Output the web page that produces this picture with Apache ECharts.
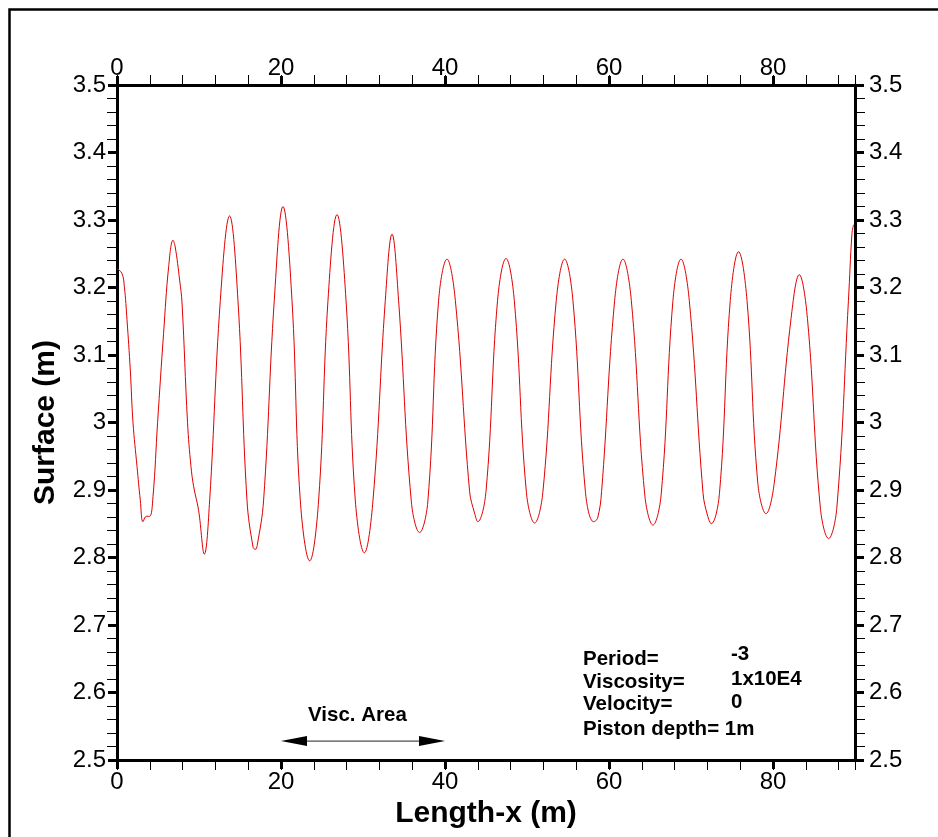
<!DOCTYPE html>
<html>
<head>
<meta charset="utf-8">
<script src="https://cdn.jsdelivr.net/npm/echarts@6/dist/echarts.min.js"></script>
<style>
html,body{margin:0;padding:0;background:#fff;}
#chart{width:938px;height:837px;}
</style>
</head>
<body>
<div id="chart"></div>
<script>
// Surface elevation along the channel
const lengthX = [0, 0.6, 0.9, 1.22, 1.62, 1.95, 2.44, 2.84, 3.17, 3.57, 3.98, 4.39, 4.95, 5.68, 6.3, 6.83, 7.1, 7.64, 7.93, 8.6,
  9.02, 9.35, 9.95, 10.65, 11.3, 12.6, 13.73, 14.75, 15.85, 16.6, 16.87, 17.1, 17.88, 19.18, 20.24, 21.34,
  22.35, 23.5, 24.59, 25.73, 26.83, 27.93, 29.06, 30.16, 31.22, 32.72, 33.54, 34.34, 35.9, 36.9, 37.9,
  39.22, 40.24, 41.26, 43.0, 43.6, 44.0, 45.0, 46.41, 47.44, 48.45, 49.93, 50.93, 51.93, 53.57, 54.59, 55.6,
  57.12, 58.12, 58.6, 59.1, 60.69, 61.7, 62.72, 64.36, 65.36, 66.36, 67.8, 68.78, 69.79, 71.47, 72.0, 72.47,
  73.47, 74.79, 75.8, 76.83, 78.15, 79.15, 80.15, 82.2, 83.2, 84.2, 85.78, 86.78, 87.78, 89.2, 89.63, 89.83];
const surface = [3.228, 3.221, 3.201, 3.152, 3.078, 3.0, 2.935, 2.885, 2.853, 2.861, 2.861, 2.890, 3.0, 3.132, 3.231, 3.270, 3.260, 3.211, 3.177, 3.0,
  2.935, 2.905, 2.870, 2.805, 2.885, 3.181, 3.306, 3.181, 2.885, 2.815, 2.812, 2.818, 2.885, 3.181, 3.320, 3.181,
  2.885, 2.795, 2.885, 3.181, 3.308, 3.181, 2.885, 2.807, 2.885, 3.181, 3.279, 3.181, 2.882, 2.837, 2.882,
  3.181, 3.242, 3.181, 2.898, 2.866, 2.853, 2.898, 3.181, 3.243, 3.181, 2.896, 2.851, 2.896, 3.181, 3.242, 3.181,
  2.898, 2.853, 2.858, 2.898, 3.181, 3.242, 3.181, 2.893, 2.848, 2.893, 3.181, 3.242, 3.181, 2.895, 2.863, 2.850,
  2.895, 3.181, 3.253, 3.181, 2.910, 2.865, 2.910, 3.154, 3.219, 3.154, 2.873, 2.828, 2.873, 3.181, 3.280, 3.293];

// Axis settings
const xRange = [0, 90];
const xMajorStep = 20;
const xMinorStep = 4;
const yRange = [2.5, 3.5];
const yMajorStep = 0.1;

// Annotations
const viscArea = [20, 40];
const viscArrowLevel = 2.528;
const infoLabels = ['Period=', 'Viscosity=', 'Velocity=', 'Piston depth= 1m'];
const infoValues = ['-3', '1x10E4', '0', ''];

const FONT = '"Liberation Sans", Arial, Helvetica, sans-serif';

const chart = echarts.init(document.getElementById('chart'), null, {renderer: 'canvas'});

function majorX(pos, margin) {
  return {
    type: 'value', position: pos, min: xRange[0], max: xRange[1], interval: xMajorStep,
    axisLine: {show: true, onZero: false, lineStyle: {color: '#000', width: 3}},
    axisTick: {show: true, inside: false, length: 9, lineStyle: {color: '#000', width: 3}},
    axisLabel: {show: true, margin: margin, color: '#000', fontSize: 24, fontFamily: FONT, showMaxLabel: false},
    splitLine: {show: false}
  };
}
function minorX(pos) {
  return {
    type: 'value', position: pos, min: xRange[0], max: xRange[1], interval: xMinorStep,
    axisLine: {show: false, onZero: false},
    axisTick: {show: true, inside: false, length: 10, lineStyle: {color: '#000', width: 1}},
    axisLabel: {show: false},
    splitLine: {show: false}
  };
}
function yAx(pos, margin) {
  return {
    type: 'value', position: pos, min: yRange[0], max: yRange[1], interval: yMajorStep,
    axisLine: {show: true, onZero: false, lineStyle: {color: '#000', width: 3}},
    axisTick: {show: true, inside: false, length: 9, lineStyle: {color: '#000', width: 3}},
    minorTick: {show: true, splitNumber: 5, length: 10, lineStyle: {color: '#000', width: 1}},
    axisLabel: {show: true, margin: margin, color: '#000', fontSize: 24, fontFamily: FONT},
    splitLine: {show: false}, minorSplitLine: {show: false}
  };
}

const xAxes = [majorX('bottom', 10), majorX('top', 5), minorX('bottom'), minorX('top')];
xAxes[0].name = 'Length-x (m)';
xAxes[0].nameLocation = 'middle';
xAxes[0].nameGap = 18;
xAxes[0].nameTextStyle = {fontSize: 30, fontWeight: 'bold', color: '#000', fontFamily: FONT};

const yAxes = [yAx('left', 11), yAx('right', 14)];
yAxes[0].name = 'Surface (m)';
yAxes[0].nameLocation = 'middle';
yAxes[0].nameGap = 56;
yAxes[0].nameTextStyle = {fontSize: 30, fontWeight: 'bold', color: '#000', fontFamily: FONT};

const lineData = lengthX.map((x, i) => [x, surface[i]]);

const infoGraphics = [];
const lineBaselines = [667, 690, 712, 737];
const valueBaselines = [662, 687, 710, 737];
infoLabels.forEach((t, i) => {
  infoGraphics.push({type: 'text', id: 'lbl' + i, left: 583, top: lineBaselines[i] - 18, z: 100,
    style: {text: t, font: 'bold 20.5px ' + FONT, fill: '#000'}});
  if (infoValues[i]) {
    infoGraphics.push({type: 'text', id: 'val' + i, left: 731, top: valueBaselines[i] - 18, z: 100,
      style: {text: infoValues[i], font: 'bold 20.5px ' + FONT, fill: '#000'}});
  }
});

chart.setOption({
  animation: false,
  backgroundColor: '#fff',
  grid: {left: 117, right: 83, top: 85, bottom: 77, containLabel: false},
  xAxis: xAxes,
  yAxis: yAxes,
  graphic: [
    {type: 'rect', id: 'frame', shape: {x: 9.5, y: 9.5, width: 960, height: 860}, z: 100,
      style: {fill: 'none', stroke: '#000', lineWidth: 2.5}},
    {type: 'text', id: 'visc', left: 308, top: 705, z: 100,
      style: {text: 'Visc. Area', font: 'bold 20.5px ' + FONT, fill: '#000'}}
  ].concat(infoGraphics),
  series: [{
    type: 'line',
    xAxisIndex: 0, yAxisIndex: 0,
    data: lineData,
    showSymbol: false,
    smooth: 0.4,
    lineStyle: {color: '#e00000', width: 1}
  }]
});

// Double-headed arrow marking the viscous area, placed through the axis scales
const pA = chart.convertToPixel({xAxisIndex: 0, yAxisIndex: 0}, [viscArea[0], viscArrowLevel]);
const pB = chart.convertToPixel({xAxisIndex: 0, yAxisIndex: 0}, [viscArea[1], viscArrowLevel]);
const headLen = 26, headHalf = 5;
chart.setOption({
  graphic: [
    {type: 'line', id: 'arrowShaft', z: 100,
      shape: {x1: pA[0] + headLen - 2, y1: pA[1], x2: pB[0] - headLen + 2, y2: pB[1]},
      style: {stroke: '#222', lineWidth: 1}},
    {type: 'polygon', id: 'arrowL', z: 100,
      shape: {points: [[pA[0], pA[1]], [pA[0] + headLen, pA[1] - headHalf], [pA[0] + headLen, pA[1] + headHalf]]},
      style: {fill: '#000'}},
    {type: 'polygon', id: 'arrowR', z: 100,
      shape: {points: [[pB[0], pB[1]], [pB[0] - headLen, pB[1] - headHalf], [pB[0] - headLen, pB[1] + headHalf]]},
      style: {fill: '#000'}}
  ]
});
</script>
</body>
</html>
